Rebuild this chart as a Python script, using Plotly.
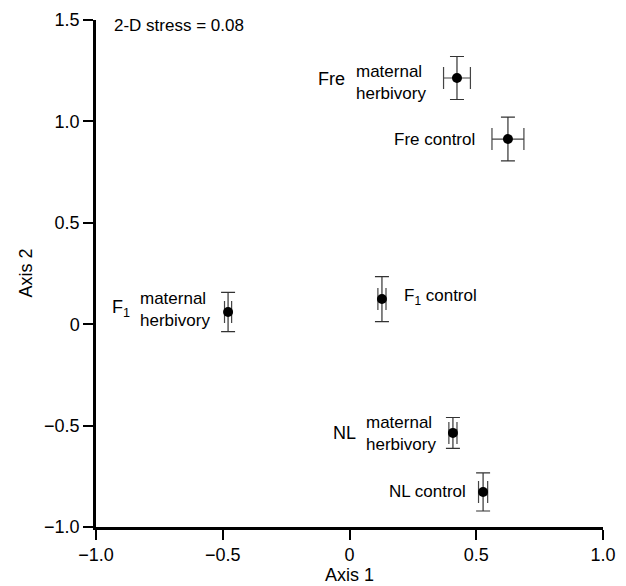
import plotly.graph_objects as go

# ---- data (NMDS ordination, group means ± SE) ----
groups = ["Fre", "Fre", "F<sub>1</sub>", "F<sub>1</sub>", "NL", "NL"]
treatments = ["maternal<br>herbivory", "control", "maternal<br>herbivory", "control",
              "maternal<br>herbivory", "control"]
axis1 = [0.424, 0.625, -0.479, 0.128, 0.408, 0.527]
axis2 = [1.214, 0.913, 0.060, 0.124, -0.536, -0.827]
axis1_se = [0.053, 0.063, 0.014, 0.016, 0.016, 0.018]
axis2_se = [0.106, 0.108, 0.097, 0.111, 0.076, 0.094]
stress_text = "2-D stress = 0.08"
x_title = "Axis 1"
y_title = "Axis 2"
tick_vals_x = [-1.0, -0.5, 0, 0.5, 1.0]
tick_text_x = ["\u22121.0", "\u22120.5", "0", "0.5", "1.0"]
tick_vals_y = [-1.0, -0.5, 0, 0.5, 1.0, 1.5]
tick_text_y = ["\u22121.0", "\u22120.5", "0", "0.5", "1.0", "1.5"]

FONT = "Liberation Sans, Arial, Helvetica, sans-serif"
FS = 17

# label placement (pixel offsets from each point)
label_style = [
    dict(side="left", main=-29, pre=-110, ymain=-4, ypre=-1),
    dict(side="left", main=-31, pre=None, ymain=0, ypre=0),
    dict(side="left", main=-16, pre=-96, ymain=3, ypre=4),
    dict(side="right", main=20, pre=None, ymain=2, ypre=0),
    dict(side="left", main=-15, pre=-95, ymain=-1, ypre=0),
    dict(side="left", main=-15, pre=None, ymain=0, ypre=0),
]

fig = go.Figure()
fig.add_trace(go.Scatter(
    x=axis1, y=axis2, mode="markers",
    marker=dict(color="black", size=10),
    error_x=dict(type="data", array=axis1_se, visible=True, color="#444",
                 thickness=1.2, width=11),
    error_y=dict(type="data", array=axis2_se, visible=True, color="#333",
                 thickness=1.2, width=7),
    showlegend=False, hoverinfo="skip",
))

annotations = []
for g, t, x, y, st in zip(groups, treatments, axis1, axis2, label_style):
    if st["pre"] is None:
        text = f"{g} {t}"
        annotations.append(dict(
            x=x, y=y, xref="x", yref="y", text=text, showarrow=False,
            xanchor="right" if st["side"] == "left" else "left", yanchor="middle",
            xshift=st["main"], yshift=st["ymain"], align="left",
            font=dict(family=FONT, size=FS, color="black")))
    else:
        annotations.append(dict(
            x=x, y=y, xref="x", yref="y", text=t, showarrow=False,
            xanchor="right", yanchor="middle", align="left",
            xshift=st["main"], yshift=st["ymain"],
            font=dict(family=FONT, size=FS, color="black")))
        annotations.append(dict(
            x=x, y=y, xref="x", yref="y", text=g, showarrow=False,
            xanchor="right", yanchor="middle",
            xshift=st["pre"], yshift=st["ypre"],
            font=dict(family=FONT, size=FS + 1, color="black")))

annotations.append(dict(
    x=0.0316, y=0.99, xref="x domain", yref="y domain", text=stress_text,
    showarrow=False, xanchor="left", yanchor="middle",
    font=dict(family=FONT, size=FS, color="black")))
# axis titles
annotations.append(dict(
    x=0.5, y=-0.095, xref="x domain", yref="y domain", text=x_title,
    showarrow=False, xanchor="center", yanchor="middle",
    font=dict(family=FONT, size=FS + 1, color="black")))
annotations.append(dict(
    x=-0.14, y=0.5, xref="x domain", yref="y domain", text=y_title,
    showarrow=False, xanchor="center", yanchor="middle", textangle=-90,
    font=dict(family=FONT, size=FS + 1, color="black")))

axis_common = dict(
    showline=True, linecolor="black", linewidth=2.5,
    ticks="outside", ticklen=10, tickwidth=2, tickcolor="black",
    showgrid=False, zeroline=False, automargin=False,
    tickfont=dict(family=FONT, size=FS + 1, color="black"),
)

fig.update_layout(
    width=626, height=586, autosize=False,
    margin=dict(l=96, r=23, t=20, b=59),
    paper_bgcolor="white", plot_bgcolor="white",
    font=dict(family=FONT, size=FS, color="black"),
    xaxis=dict(range=[-1, 1], tickvals=tick_vals_x, ticktext=tick_text_x,
               **axis_common),
    yaxis=dict(range=[-1, 1.5], tickvals=tick_vals_y, ticktext=tick_text_y,
               **axis_common),
    annotations=annotations,
)

fig.write_html("out.html", config={"displayModeBar": False},
               post_script="document.body.style.margin='0';")
